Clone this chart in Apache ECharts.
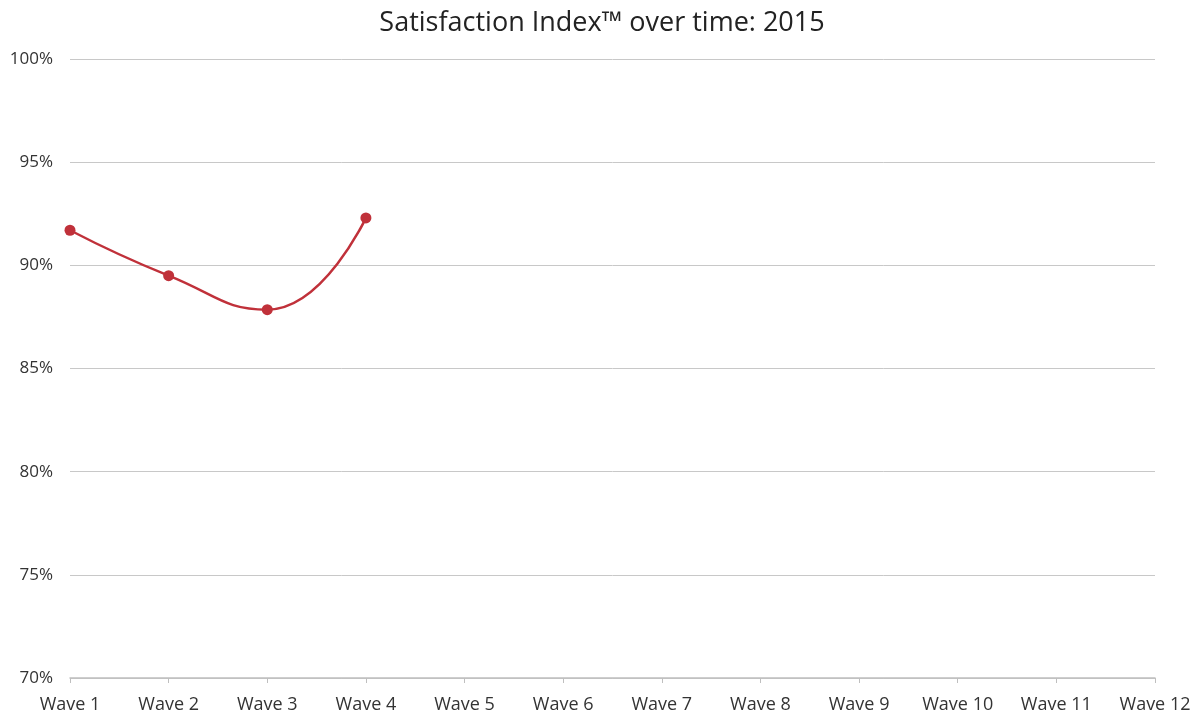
<!DOCTYPE html>
<html>
<head>
<meta charset="utf-8">
<title>Satisfaction Index over time: 2015</title>
<script src="https://cdn.jsdelivr.net/npm/echarts@6/dist/echarts.min.js"></script>
<style>
  html, body { margin: 0; padding: 0; background: #fff; }
  #chart { width: 1204px; height: 715px; }
</style>
</head>
<body>
<div id="chart"></div>
<script>
const waves = [
  "Wave 1", "Wave 2", "Wave 3", "Wave 4", "Wave 5", "Wave 6",
  "Wave 7", "Wave 8", "Wave 9", "Wave 10", "Wave 11", "Wave 12",
];
// only the first four waves have results so far
const satisfaction = [91.7, 89.5, 87.85, 92.3];

const lineColor = "#c0313a";
const fontName = "'Open Sans', Lato, sans-serif";

const chart = echarts.init(document.getElementById("chart"));
chart.setOption({
  animation: false,
  title: {
    text: "Satisfaction Index™ over time: 2015",
    left: "center",
    top: 5,
    textStyle: {
      fontFamily: fontName,
      fontSize: 27,
      fontWeight: "normal",
      color: "#222",
    },
  },
  grid: {
    left: 70,
    right: 49,
    top: 59,
    bottom: 37,
  },
  xAxis: {
    type: "category",
    data: waves,
    boundaryGap: false,
    axisLine: { lineStyle: { color: "#bfbfbf", width: 1.5 } },
    axisTick: { show: true, length: 5, lineStyle: { color: "#bfbfbf" } },
    axisLabel: {
      interval: 0,
      margin: 18,
      fontFamily: fontName,
      fontSize: 18,
      color: "#333",
    },
  },
  yAxis: {
    type: "value",
    min: 70,
    max: 100,
    interval: 5,
    axisLine: { show: false },
    axisTick: { show: false },
    splitLine: { lineStyle: { color: "#c8c8c8", width: 1 } },
    axisLabel: {
      formatter: "{value}%",
      margin: 17,
      fontFamily: fontName,
      fontSize: 17,
      color: "#333",
    },
  },
  series: [
    {
      type: "line",
      data: satisfaction,
      smooth: 0.5,
      symbol: "circle",
      symbolSize: 11,
      lineStyle: { color: lineColor, width: 2.5 },
      itemStyle: { color: lineColor },
    },
  ],
});
</script>
</body>
</html>
